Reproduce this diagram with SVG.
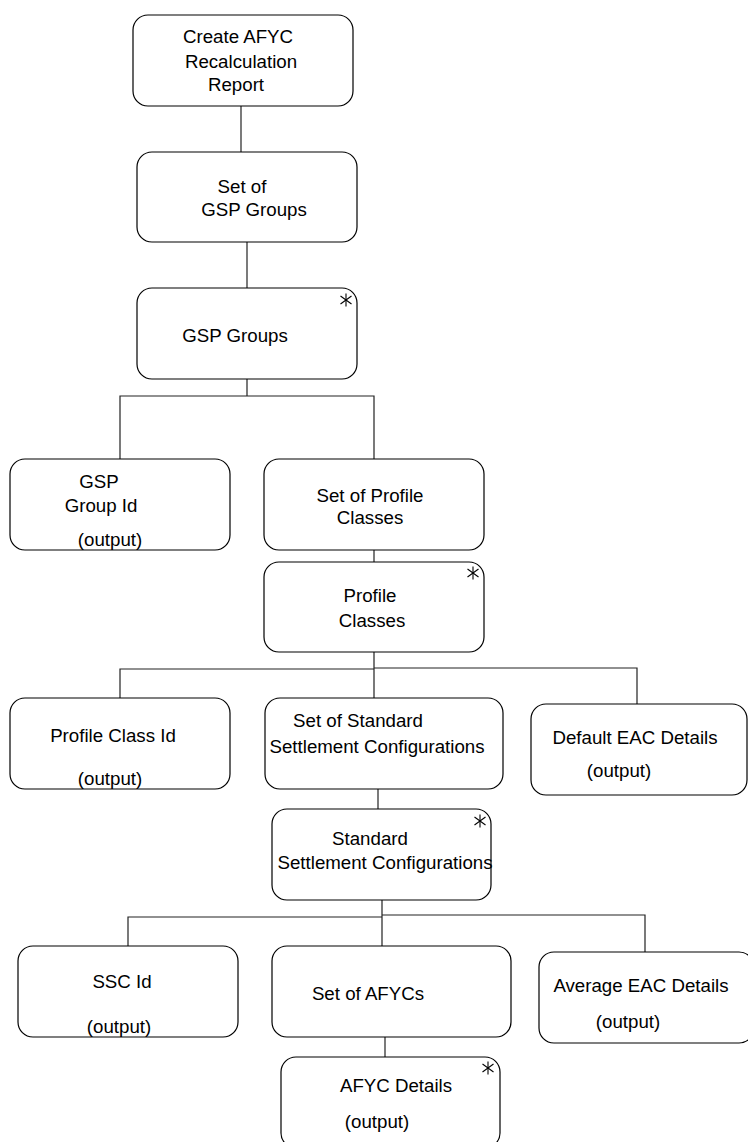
<svg xmlns="http://www.w3.org/2000/svg" width="748" height="1142" viewBox="0 0 748 1142">
<style>
.box{fill:#fff;stroke:#000;stroke-width:1.2}
.ln{fill:none;stroke:#222;stroke-width:1.2}
.st{stroke:#000;stroke-width:1.1}
text{font-family:"Liberation Sans",Arial,sans-serif;font-size:18.7px;fill:#000;text-anchor:middle}
</style>
<defs>
<g id="star"><line class="st" x1="0" y1="-6.5" x2="0" y2="6.5"/><line class="st" x1="-5.5" y1="-4" x2="5.5" y2="4"/><line class="st" x1="-5.5" y1="4" x2="5.5" y2="-4"/></g>
</defs>
<rect width="748" height="1142" fill="#fff"/>
<g id="connectors">
<path class="ln" d="M241,106V152"/>
<path class="ln" d="M247,242V288"/>
<path class="ln" d="M247,379V396M120,459V396H374V459"/>
<path class="ln" d="M374,550V562"/>
<path class="ln" d="M374,652V698M120,698V669H374M374,668H637V704"/>
<path class="ln" d="M378,789V809"/>
<path class="ln" d="M382,900V946M128,946V917H382M382,915H645V952"/>
<path class="ln" d="M385,1037V1057"/>
</g>
<g id="n1"><rect class="box" x="133" y="15" width="220" height="91" rx="15"/>
<text x="238" y="43">Create AFYC</text><text x="241" y="68">Recalculation</text><text x="236" y="91">Report</text></g>
<g id="n2"><rect class="box" x="137" y="152" width="220" height="90" rx="15"/>
<text x="242" y="193">Set of</text><text x="254" y="216">GSP Groups</text></g>
<g id="n3"><rect class="box" x="137" y="288" width="220" height="91" rx="15"/>
<text x="235" y="342">GSP Groups</text><use href="#star" x="346" y="300"/></g>
<g id="n4"><rect class="box" x="10" y="459" width="220" height="91" rx="15"/>
<text x="99" y="488">GSP</text><text x="101" y="512">Group Id</text><text x="110" y="546">(output)</text></g>
<g id="n5"><rect class="box" x="264" y="459" width="220" height="91" rx="15"/>
<text x="370" y="502">Set of Profile</text><text x="370" y="524">Classes</text></g>
<g id="n6"><rect class="box" x="264" y="562" width="220" height="90" rx="15"/>
<text x="370" y="602">Profile</text><text x="372" y="627">Classes</text><use href="#star" x="473" y="573"/></g>
<g id="n7"><rect class="box" x="10" y="698" width="220" height="91" rx="15"/>
<text x="113" y="742">Profile Class Id</text><text x="110" y="785">(output)</text></g>
<g id="n8"><rect class="box" x="265" y="698" width="238" height="91" rx="15"/>
<text x="358" y="727">Set of Standard</text><text x="377" y="753">Settlement Configurations</text></g>
<g id="n9"><rect class="box" x="531" y="704" width="216" height="91" rx="15"/>
<text x="635" y="744">Default EAC Details</text><text x="619" y="777">(output)</text></g>
<g id="n10"><rect class="box" x="272" y="809" width="219" height="91" rx="15"/>
<text x="370" y="845">Standard</text><text x="385" y="869">Settlement Configurations</text><use href="#star" x="480" y="821"/></g>
<g id="n11"><rect class="box" x="18" y="946" width="220" height="91" rx="15"/>
<text x="122" y="988">SSC Id</text><text x="119" y="1033">(output)</text></g>
<g id="n12"><rect class="box" x="272" y="946" width="239" height="91" rx="15"/>
<text x="368" y="1000">Set of AFYCs</text></g>
<g id="n13"><rect class="box" x="539" y="952" width="215" height="91" rx="15"/>
<text x="641" y="992">Average EAC Details</text><text x="628" y="1028">(output)</text></g>
<g id="n14"><rect class="box" x="281" y="1057" width="219" height="91" rx="15"/>
<text x="396" y="1092">AFYC Details</text><text x="377" y="1128">(output)</text><use href="#star" x="488" y="1068"/></g>
</svg>
